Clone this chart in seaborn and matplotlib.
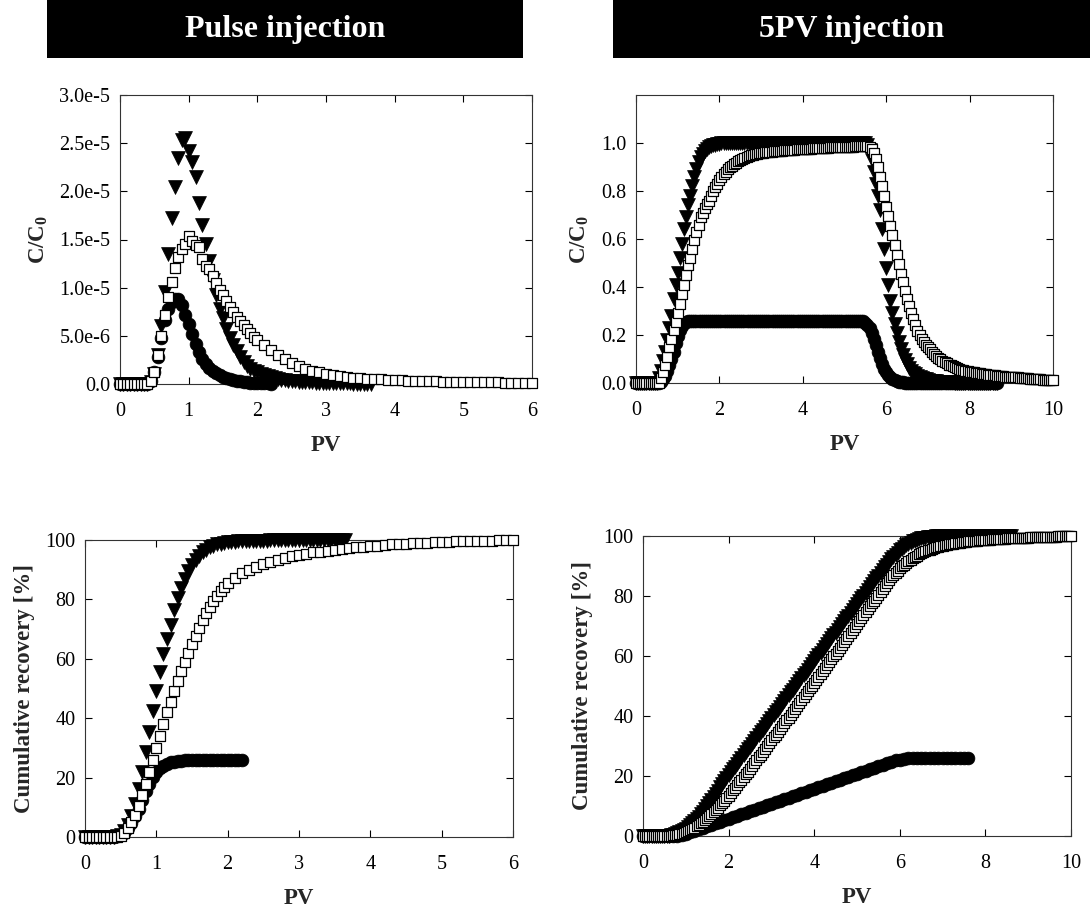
import numpy as np
import pandas as pd
import matplotlib
matplotlib.use("Agg")
import matplotlib.pyplot as plt
from matplotlib.patches import Rectangle
import seaborn as sns

# ---------------- DATA ----------------
# Pulse injection, C/C0 in units of 1e-5, PV grid step 0.05 (squares: 0.05 up to 2.0, then 0.1)
pulse_circle_c = [0.0] * 9 + [0.03, 0.12, 0.28, 0.48, 0.66, 0.78, 0.85, 0.88, 0.88, 0.82,
                              0.72, 0.62, 0.52, 0.42, 0.33, 0.26, 0.21, 0.17, 0.14, 0.11,
                              0.09, 0.075, 0.06, 0.05, 0.04, 0.033, 0.027, 0.022, 0.018, 0.015,
                              0.012, 0.01, 0.008, 0.007, 0.006, 0.005]
pulse_tri_c = [0.0] * 9 + [0.02, 0.10, 0.30, 0.60, 0.95, 1.35, 1.72, 2.05, 2.35, 2.53,
                           2.55, 2.42, 2.30, 2.15, 1.88, 1.65, 1.45, 1.28, 1.08, 0.92,
                           0.78, 0.68, 0.57, 0.48, 0.40, 0.34, 0.28, 0.23, 0.19, 0.16,
                           0.14, 0.12, 0.10, 0.09, 0.08, 0.07, 0.06, 0.05, 0.045, 0.04,
                           0.035, 0.03] + \
              [0.027, 0.024, 0.022, 0.02, 0.018, 0.016, 0.015, 0.013, 0.012, 0.011,
               0.01, 0.009, 0.008, 0.008, 0.007, 0.006, 0.006, 0.005, 0.005, 0.004,
               0.004, 0.003, 0.003]
pulse_sq_c = [0.0] * 9 + [0.03, 0.12, 0.30, 0.50, 0.72, 0.90, 1.06, 1.20, 1.32, 1.40,
                          1.45, 1.54, 1.48, 1.44, 1.42, 1.30, 1.22, 1.19, 1.12, 1.05,
                          0.98, 0.92, 0.86, 0.80, 0.75, 0.70, 0.65, 0.61, 0.57, 0.53,
                          0.49, 0.46] + \
             [0.40, 0.35, 0.30, 0.26, 0.22, 0.19, 0.16, 0.14, 0.12, 0.105,
              0.092, 0.082, 0.074, 0.067, 0.061, 0.056, 0.051, 0.047, 0.043, 0.040,
              0.037, 0.035, 0.033, 0.031, 0.029, 0.027, 0.025, 0.024, 0.022, 0.021,
              0.020, 0.019, 0.018, 0.017, 0.016, 0.015, 0.014, 0.013, 0.012, 0.011]

# Pulse injection, cumulative recovery [%]
pulse_circle_rec = [0.0] * 9 + [0.2, 0.6, 1.5, 2.9, 4.8, 7.0, 9.5, 12.5, 15.5, 18.0,
                                20.2, 21.9, 23.1, 24.0, 24.6, 25.1, 25.4, 25.6, 25.7, 25.8,
                                25.85, 25.9, 25.95] + [26.0] * 13
pulse_tri_rec = [0.0] * 9 + [0.2, 0.8, 2.0, 4.0, 7.0, 11.0, 16.0, 22.0, 28.5, 35.5,
                             42.5, 49.0, 55.5, 61.5, 66.5, 71.5, 76.5, 80.5, 84.0, 87.0,
                             89.5, 91.6, 93.3, 94.7, 95.9, 96.8, 97.5, 98.1, 98.5, 98.8,
                             99.0, 99.2, 99.35, 99.45, 99.55, 99.6, 99.65, 99.7, 99.72, 99.75] + \
                [99.78, 99.8, 99.82, 99.84, 99.85, 99.86, 99.87, 99.88, 99.89, 99.9,
                 99.91, 99.92, 99.93, 99.94, 99.95, 99.95, 99.96, 99.96, 99.97, 99.97,
                 99.98, 99.98, 99.99, 99.99, 100.0]
pulse_sq_rec = [0.0] * 9 + [0.1, 0.5, 1.5, 3.0, 5.0, 7.5, 10.5, 14.0, 18.0, 22.0,
                            26.0, 30.0, 34.0, 38.0, 42.0, 45.5, 49.0, 52.5, 55.8, 59.0,
                            62.0, 65.0, 67.8, 70.5, 73.0, 75.3, 77.5, 79.5, 81.2, 82.8,
                            84.2, 85.5] + \
               [87.3, 88.8, 90.0, 91.0, 91.9, 92.7, 93.4, 94.0, 94.5, 95.0,
                95.4, 95.8, 96.1, 96.4, 96.7, 97.0, 97.3, 97.5, 97.7, 97.9,
                98.1, 98.3, 98.5, 98.6, 98.8, 98.9, 99.0, 99.1, 99.2, 99.3,
                99.4, 99.5, 99.55, 99.6, 99.7, 99.75, 99.8, 99.85, 99.9, 100.0]

# 5PV injection, C/C0, PV grid step 0.05
pv5_tri_c = [0.0] * 11 + [0.02, 0.05, 0.09, 0.13, 0.18, 0.23, 0.28, 0.35, 0.41, 0.46,
                          0.52, 0.58, 0.64, 0.69, 0.74, 0.78, 0.82, 0.86, 0.89, 0.92,
                          0.94, 0.955, 0.965, 0.975, 0.982, 0.987, 0.99, 0.993, 0.995, 0.997] + \
            [1.0] * 70 + \
            [0.99, 0.97, 0.93, 0.88, 0.83, 0.78, 0.72, 0.64, 0.56, 0.48,
             0.41, 0.34, 0.29, 0.245, 0.21, 0.17, 0.14, 0.115, 0.095, 0.078,
             0.064, 0.052, 0.043, 0.036, 0.030, 0.025, 0.021, 0.018, 0.015, 0.013] + \
            [0.01, 0.009, 0.008, 0.007, 0.006, 0.005, 0.005, 0.004, 0.004, 0.003,
             0.003, 0.003, 0.002, 0.002, 0.002, 0.002] + [0.001] * 17
pv5_circle_c = [0.0] * 12 + [0.005, 0.015, 0.03, 0.05, 0.075, 0.10, 0.13, 0.165, 0.195, 0.22,
                             0.238, 0.249, 0.255, 0.258, 0.26] + \
               [0.26] * 82 + \
               [0.258, 0.252, 0.242, 0.228, 0.21, 0.185, 0.158, 0.13, 0.103, 0.08,
                0.06, 0.044, 0.032, 0.023, 0.016, 0.011, 0.008, 0.006, 0.004, 0.003,
                0.002] + [0.001] * 44
pv5_sq_c = [0.0] * 12 + [0.02, 0.045, 0.075, 0.11, 0.15, 0.185, 0.22, 0.255, 0.29, 0.33,
                         0.37, 0.41, 0.45, 0.49, 0.52, 0.56, 0.595, 0.63, 0.66, 0.69,
                         0.71, 0.73, 0.745, 0.76, 0.78, 0.80, 0.815, 0.83, 0.845, 0.86,
                         0.87, 0.88, 0.89, 0.898, 0.905, 0.912, 0.918, 0.924, 0.929, 0.934,
                         0.938, 0.942, 0.945, 0.948, 0.951, 0.953, 0.955, 0.957, 0.959] + \
           [0.960, 0.961, 0.962, 0.963, 0.964, 0.965, 0.966, 0.967, 0.967, 0.968,
            0.969, 0.970, 0.970, 0.971, 0.972, 0.972, 0.973, 0.974, 0.974, 0.975,
            0.976, 0.976, 0.977, 0.977, 0.978, 0.978, 0.979, 0.979, 0.980, 0.980,
            0.981, 0.981, 0.982, 0.982, 0.982, 0.983, 0.983, 0.983, 0.984, 0.984,
            0.984, 0.985, 0.985, 0.985, 0.986, 0.986, 0.986, 0.986, 0.987, 0.987] + \
           [0.986, 0.982, 0.975, 0.96, 0.935, 0.90, 0.86, 0.82, 0.78, 0.735,
            0.695, 0.655, 0.615, 0.575, 0.535, 0.495, 0.455, 0.42, 0.385, 0.35,
            0.32, 0.29, 0.265, 0.24, 0.218, 0.20] + \
           [0.185, 0.172, 0.16, 0.15, 0.14, 0.13, 0.121, 0.113, 0.106, 0.099,
            0.093, 0.087, 0.082, 0.077, 0.073, 0.069, 0.065, 0.062, 0.059, 0.056,
            0.053, 0.051, 0.049, 0.047] + \
           [0.045, 0.044, 0.042, 0.041, 0.040, 0.038, 0.037, 0.036, 0.035, 0.034,
            0.033, 0.032, 0.031, 0.030, 0.029, 0.028, 0.027, 0.027, 0.026, 0.025,
            0.024, 0.023, 0.023, 0.022, 0.021, 0.020, 0.020, 0.019, 0.018, 0.018,
            0.017, 0.016, 0.016, 0.015, 0.014, 0.014, 0.013, 0.013, 0.012, 0.012]

# 5PV injection, cumulative recovery [%]
# triangles & squares: PV grid step 0.05 ; circles: PV grid step 0.1
pv5_tri_rec = [0.0] * 12 + \
    [0.1, 0.25, 0.4, 0.65, 0.9, 1.25, 1.6, 2.05, 2.5, 3.05,
     3.6, 4.25, 4.9, 5.65, 6.4, 7.2, 8.0, 9.0, 10.0, 11.0,
     12.0, 13.05, 14.1, 15.15, 16.2, 17.25, 18.3, 19.3, 20.3, 21.25,
     22.2, 23.15, 24.1, 25.05, 26.0, 26.95, 27.9, 28.85, 29.8, 30.75,
     31.7, 32.65, 33.6, 34.55, 35.5, 36.45, 37.4, 38.35, 39.3, 40.25,
     41.2, 42.15, 43.1, 44.05, 45.0, 45.95, 46.9, 47.85, 48.8, 49.75,
     50.7, 51.65, 52.6, 53.55, 54.5, 55.45, 56.4, 57.35, 58.3, 59.25,
     60.2, 61.15, 62.1, 63.05, 64.0, 64.95, 65.9, 66.85, 67.8, 68.75,
     69.7, 70.65, 71.6, 72.55, 73.5, 74.45, 75.4, 76.35, 77.3, 78.25,
     79.2, 80.15, 81.1, 82.05, 83.0, 83.95, 84.9, 85.85, 86.8, 87.75,
     88.7, 89.6, 90.5, 91.35, 92.2, 93.0, 93.8, 94.5, 95.2, 95.8,
     96.4, 96.9, 97.4, 97.8, 98.2, 98.5, 98.8, 99.0, 99.2, 99.35,
     99.5, 99.6, 99.7, 99.75, 99.8, 99.85, 99.9, 99.95] + [100.0] * 33
pv5_circle_rec = [0.0] * 7 + [0.05, 0.15, 0.4, 0.8, 1.3, 1.8, 2.3, 2.8] + \
                 [3.3, 3.8, 4.3, 4.8, 5.3, 5.8, 6.3, 6.8, 7.3, 7.8,
                  8.3, 8.8, 9.3, 9.8, 10.3, 10.8, 11.3, 11.8, 12.3, 12.8,
                  13.3, 13.8, 14.3, 14.8, 15.3, 15.8, 16.3, 16.8, 17.3, 17.8,
                  18.3, 18.8, 19.3, 19.8, 20.3, 20.8, 21.3, 21.8, 22.3, 22.8,
                  23.3] + \
                 [23.8, 24.3, 24.8, 25.2, 25.5, 25.7, 25.85, 25.95] + [26.0] * 13
pv5_sq_rec = [0.0] * 12 + \
    [0.05, 0.12, 0.2, 0.32, 0.45, 0.62, 0.8, 1.0, 1.2, 1.55,
     1.9, 2.3, 2.7, 3.2, 3.7, 4.25, 4.8, 5.4, 6.0, 6.65,
     7.3, 8.0, 8.7, 9.45, 10.2, 11.0, 11.8, 12.65, 13.5, 14.35,
     15.2, 16.1, 17.0, 17.9, 18.8, 19.7, 20.6, 21.5, 22.4, 23.35,
     24.3, 25.25, 26.2, 27.15, 28.1, 29.05, 30.0, 30.95, 31.9, 32.85,
     33.8, 34.75, 35.7, 36.65, 37.6, 38.55, 39.5, 40.45, 41.4, 42.35,
     43.3, 44.3, 45.3, 46.25, 47.2, 48.2, 49.2, 50.15, 51.1, 52.05,
     53.0, 54.0, 55.0, 55.95, 56.9, 57.9, 58.9, 59.85, 60.8, 61.8,
     62.8, 63.8, 64.8, 65.75, 66.7, 67.7, 68.7, 69.65, 70.6, 71.6,
     72.6, 73.6, 74.6, 75.6, 76.6, 77.55, 78.5, 79.5, 80.5, 81.5,
     82.5, 83.45, 84.4, 85.3, 86.2, 87.0, 87.8, 88.5, 89.2, 89.85,
     90.5, 91.05, 91.6, 92.1, 92.6, 93.05, 93.5, 93.9, 94.3, 94.6,
     94.9, 95.2, 95.5, 95.75, 96.0, 96.2, 96.4, 96.6, 96.8, 96.95,
     97.1, 97.25, 97.4, 97.5, 97.6, 97.7, 97.8, 97.9, 98.0, 98.1,
     98.2, 98.25, 98.3, 98.4, 98.5, 98.55, 98.6, 98.65, 98.7, 98.75,
     98.8, 98.85, 98.9, 98.95, 99.0, 99.05, 99.1, 99.15, 99.2, 99.22,
     99.25, 99.28, 99.3, 99.35, 99.4, 99.42, 99.45, 99.48, 99.5, 99.52,
     99.55, 99.58, 99.6, 99.62, 99.65, 99.68, 99.7, 99.72, 99.75, 99.78,
     99.8, 99.82, 99.85, 99.88, 99.9, 99.92, 99.95, 99.98, 100.0]

# PV sampling grids
pulse_pv_fine = np.round(np.arange(len(pulse_tri_c)) * 0.05, 3)
pulse_pv_circle = np.round(np.arange(len(pulse_circle_c)) * 0.05, 3)
pulse_pv_sq = np.round(np.concatenate([np.arange(41) * 0.05,
                                       2.0 + np.arange(1, len(pulse_sq_c) - 40) * 0.1]), 3)
grid05 = lambda n: np.round(np.arange(n) * 0.05, 3)
grid10 = lambda n: np.round(np.arange(n) * 0.1, 3)

pulse_yticks = [0.0, 0.5e-5, 1.0e-5, 1.5e-5, 2.0e-5, 2.5e-5, 3.0e-5]
pulse_ytick_labels = ["0.0", "5.0e-6", "1.0e-5", "1.5e-5", "2.0e-5", "2.5e-5", "3.0e-5"]
pv5_yticks = [0.0, 0.2, 0.4, 0.6, 0.8, 1.0]
pv5_ytick_labels = ["0.0", "0.2", "0.4", "0.6", "0.8", "1.0"]
rec_yticks = [0, 20, 40, 60, 80, 100]
titles = ["Pulse injection", "5PV injection"]

# ---------------- STYLE ----------------
sns.set_theme(style="ticks")
plt.rcParams["font.family"] = ["Liberation Serif", "DejaVu Serif"]
plt.rcParams["mathtext.fontset"] = "custom"
plt.rcParams["mathtext.rm"] = "Liberation Serif"
plt.rcParams["mathtext.bf"] = "Liberation Serif:bold"

MARK = {
    "circle": dict(marker="o", s=85, color="black", edgecolor="black", linewidth=0.5, zorder=3),
    "tri": dict(marker="v", s=100, color="black", edgecolor="black", linewidth=0.5, zorder=4),
    "sq": dict(marker="s", s=62, color="white", edgecolor="black", linewidth=0.9, zorder=5),
}

fig = plt.figure(figsize=(10.92, 9.15), dpi=100)


def draw(ax, x, y, kind, scale=1.0):
    sns.scatterplot(x=np.asarray(x), y=np.asarray(y) * scale, ax=ax, clip_on=False,
                    legend=False, **MARK[kind])


def style_axes(ax, xlim, xticks, ylim, yticks, ylabels, ylabel):
    ax.set_xlim(*xlim)
    ax.set_ylim(*ylim)
    ax.set_xticks(xticks)
    ax.set_xticklabels([str(t) for t in xticks])
    ax.set_yticks(yticks)
    ax.set_yticklabels(ylabels)
    ax.tick_params(direction="in", length=5, width=0.8, top=True, right=True,
                   labelsize=14.5, colors="black")
    ax.tick_params(axis="x", pad=13)
    ax.tick_params(axis="y", pad=7)
    for sp in ax.spines.values():
        sp.set_linewidth(0.8)
        sp.set_color("#333333")
        sp.set_visible(True)
    ax.set_xlabel("PV", fontsize=16.5, fontweight="bold", labelpad=10)
    ax.set_ylabel(ylabel, fontsize=16.5, fontweight="bold", labelpad=7)


# Top-left: pulse C/C0
ax1 = fig.add_axes([120 / 1092, 1 - 384 / 915, 412 / 1092, 289 / 915])
draw(ax1, pulse_pv_circle, pulse_circle_c, "circle", 1e-5)
draw(ax1, pulse_pv_fine, pulse_tri_c, "tri", 1e-5)
draw(ax1, pulse_pv_sq, pulse_sq_c, "sq", 1e-5)
style_axes(ax1, (0, 6), [0, 1, 2, 3, 4, 5, 6], (0, 3.0e-5), pulse_yticks,
           pulse_ytick_labels, r"$\mathbf{C/C_0}$")

# Top-right: 5PV C/C0
ax2 = fig.add_axes([636 / 1092, 1 - 383 / 915, 417 / 1092, 288 / 915])
draw(ax2, grid05(len(pv5_circle_c)), pv5_circle_c, "circle")
draw(ax2, grid05(len(pv5_tri_c)), pv5_tri_c, "tri")
draw(ax2, grid05(len(pv5_sq_c)), pv5_sq_c, "sq")
style_axes(ax2, (0, 10), [0, 2, 4, 6, 8, 10], (0, 1.2), pv5_yticks,
           pv5_ytick_labels, r"$\mathbf{C/C_0}$")

# Bottom-left: pulse cumulative
ax3 = fig.add_axes([85 / 1092, 1 - 837 / 915, 428 / 1092, 297 / 915])
draw(ax3, pulse_pv_circle, pulse_circle_rec, "circle")
draw(ax3, pulse_pv_fine, pulse_tri_rec, "tri")
draw(ax3, pulse_pv_sq, pulse_sq_rec, "sq")
style_axes(ax3, (0, 6), [0, 1, 2, 3, 4, 5, 6], (0, 100), rec_yticks,
           [str(t) for t in rec_yticks], "Cumulative recovery [%]")

# Bottom-right: 5PV cumulative
ax4 = fig.add_axes([643 / 1092, 1 - 836 / 915, 428 / 1092, 300 / 915])
draw(ax4, grid10(len(pv5_circle_rec)), pv5_circle_rec, "circle")
draw(ax4, grid05(len(pv5_tri_rec)), pv5_tri_rec, "tri")
draw(ax4, grid05(len(pv5_sq_rec)), pv5_sq_rec, "sq")
style_axes(ax4, (0, 10), [0, 2, 4, 6, 8, 10], (0, 100), rec_yticks,
           [str(t) for t in rec_yticks], "Cumulative recovery [%]")

# Title banners
for (x0, x1), title in zip([(47, 523), (613, 1090)], titles):
    fig.add_artist(Rectangle((x0 / 1092, 1 - 58 / 915), (x1 - x0) / 1092, 58 / 915,
                             transform=fig.transFigure, facecolor="black",
                             edgecolor="none", zorder=1))
    fig.text((x0 + x1) / 2 / 1092, 1 - 30 / 915, title, color="white", fontsize=23,
             fontweight="bold", ha="center", va="center", zorder=2)

fig.savefig("out.png", dpi=100)
